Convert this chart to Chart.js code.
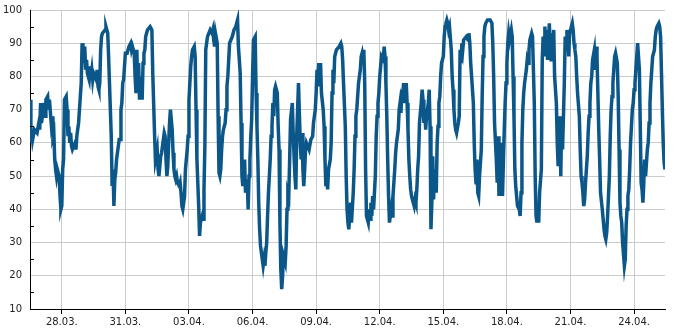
<!DOCTYPE html>
<html>
<head>
<meta charset="utf-8">
<script src="https://cdn.jsdelivr.net/npm/chart.js@4.4.1/dist/chart.umd.min.js"></script>
<style>
  html, body { margin: 0; padding: 0; background: #fff; }
  #wrap { width: 685px; height: 330px; position: relative; }
</style>
</head>
<body>
<div id="wrap"><canvas id="c"></canvas></div>
<script>
// Time in hours since 26.03. 00:00
const hours = [
12,13,14,15,17,20,22,23,24,25,28,29,30,32,33,34,36,37,38,39,40,41,42,43,45,46,47,48,49,50,51,
53,54,55,56,57,58,59,60,63,64,65,66,67,68,70,71,72,73,74,75,76,77,79,80,81,82,83,84,
87,88,89,90,91,92,93,94,97,98,99,100,101,102,104,105,106,107,108,109,110,111,
113,114,115,116,117,118,119,120,122,124,126,127,128,130,131,132,133,134,135,136,137,
139,140,141,142,143,144,145,148,149,150,151,152,153,154,156,157,158,159,160,161,162,
164,165,166,167,168,169,170,171,173,174,175,176,177,178,179,181,182,183,184,185,186,187,188,
190,191,192,193,194,195,196,198,199,200,201,202,203,204,205,207,208,209,210,211,212,213,
216,218,219,220,221,222,224,225,226,227,228,229,230,231,233,234,235,236,237,238,
241,243,245,246,247,248,250,251,252,253,254,255,256,258,259,260,261,262,263,264,265,
267,268,269,270,271,272,273,275,276,277,278,279,280,281,282,284,285,286,287,288,289,290,
292,293,294,295,296,297,298,299,301,302,303,304,305,306,307,309,310,311,312,313,314,315,316,
318,319,320,321,322,323,324,325,328,330,332,333,335,336,337,338,339,340,341,342,
344,345,346,347,348,349,350,352,353,354,355,356,357,358,359,362,364,365,366,367,
369,370,371,372,373,374,375,376,378,379,380,381,382,383,384,386,387,388,389,390,391,392,393,
395,396,397,398,399,400,401,403,404,405,406,407,408,409,410,412,413,414,415,416,417,418,419,
421,422,423,424,425,426,427,429,430,431,432,433,434,435,436,438,439,440,441,442,443,444,
446,447,448,449,450,451,452,453,455,456,457,458,459,460,461,463,464,465,466,467,468,469,470,
472,473,474,475,476,477,478,480,481,482,483,484,485,486,487,489,490,491,492,493,494,495,
497,498,499,500,501,502,503,506,508,509,510,511,512,514,515,516,517,518,519,520,521,
523,524,525,526,527,528,530,533,535,536,537,538,540,541,542,543,544,545,546,547,
549,550,551,552,553,554,555,557,558,559,560,561,562,563,564,566,567,568,569,570,571,572,
574,575,576,577,578,579,580,581,583,584,585,586,587,588,589,591,592,593,594,595,596,597,598,
600,601,602,603,604,605,606,608,609,610,611,612,613,614,615,617,618,619,620,621,622,623,
625,626,627,628,629,630,631,632,634,635,636,637,638,639,640,641,643,644,645,646,647,648,649,
651,652,653,654,655,656,657,658,660,661,662,663,664,665,666,668,669,670,671,672,673,674,675,
677,678,679,680,681,682,683,685,686,687,688,689,690,691,692,694,695,696,697,698,699,700,
702,703,704,705,706,707,708,709,711,712,713,714,715,716,717,719,720,721,722,724,725,726,
728,729,730,731
];
const values = [
73,60,64,61,64,63,66,64,72,66,72,68,73,74,70,73,66,68,62,63,55,52,50,52,50,44,40,41,52,55,73,
74,70,62,65,60,63,59,58,60,58,62,64,66,70,78,90,88,84,89,82,85,81,79,83,80,82,79,81,
79,82,77,76,78,88,92,93,94,95,94,93,86,78,62,47,52,41,49,51,55,57,
61,61,70,72,78,79,83,87,87,89,90,88,89,87,80,75,88,76,84,73,80,
73,84,87,88,92,93,94,95,95,94,81,72,63,55,58,52,50,53,56,57,59,
63,62,55,50,53,60,66,70,64,57,52,50,49,50,48,47,48,45,41,40,42,44,52,
58,62,73,78,83,86,88,89,86,70,55,48,41,32,36,38,37,46,59,88,90,92,
94,93,94,91,89,93,90,68,51,50,52,58,62,64,66,70,77,80,85,90,
92,94,95,96,97,89,81,66,50,47,52,55,45,49,40,50,55,62,67,80,91,
92,75,65,55,42,34,29,25,23,25,23,27,30,38,45,55,62,65,72,68,76,77,
75,65,58,36,22,16,20,26,24,29,40,45,44,55,67,72,63,56,50,46,62,70,78,
60,55,63,52,47,52,58,60,58,61,62,66,70,75,82,79,84,77,84,75,
70,65,55,47,50,46,52,55,60,75,82,78,86,87,88,89,90,89,85,78,
65,50,40,36,34,38,42,36,45,52,62,68,70,74,78,82,86,87,85,88,78,52,38,
36,40,37,42,38,44,40,50,62,68,72,75,80,83,86,85,89,86,78,68,55,44,36,
40,38,44,48,52,57,60,64,70,72,69,76,74,78,72,78,72,64,55,50,46,44,
42,41,43,42,46,52,56,66,72,76,73,66,70,64,68,72,76,65,34,42,56,43,52,
45,60,65,72,74,80,84,86,92,95,96,97,96,94,95,88,80,76,70,66,64,63,
66,68,88,84,90,88,91,92,91,93,90,84,80,72,60,52,48,55,45,44,50,
58,74,86,92,95,96,97,97,96,90,80,66,55,48,62,44,58,46,60,44,
64,72,78,84,90,93,91,94,92,80,68,52,47,44,41,40,38,45,60,70,75,78,
82,85,84,88,91,92,93,92,72,50,38,36,40,36,45,52,85,92,88,95,86,94,85,
96,90,85,93,88,94,80,72,60,53,58,68,50,68,58,78,92,90,94,92,86,93,
95,96,94,90,88,86,80,75,68,58,50,48,45,41,43,48,56,63,68,72,78,80,85,
88,82,89,86,75,64,55,45,40,37,34,32,31,33,38,50,62,70,74,78,82,86,87,
84,74,58,42,38,36,30,23,25,35,40,44,46,52,60,70,72,76,78,82,86,90,
82,65,48,46,42,48,55,50,58,60,66,72,78,82,86,88,92,94,95,96,95,92,
70,60,54,52
];
// x-axis ticks (hours since 26.03. 00:00) and their labels
const tickHours = [48,120,192,264,336,408,480,552,624,696];
const tickLabels = ['28.03.','31.03.','03.04.','06.04.','09.04.','12.04.','15.04.','18.04.','21.04.','24.04.'];
const minorTicksY = [15,25,35,45,55,65,75,85,95];

const points = hours.map((h, i) => ({ x: h, y: values[i] }));

const minorTickPlugin = {
  id: 'minorTicks',
  afterDatasetsDraw(chart) {
    const ys = chart.scales.y;
    const ctx = chart.ctx;
    const left = chart.chartArea.left;
    ctx.save();
    ctx.strokeStyle = '#000';
    ctx.lineWidth = 1;
    minorTicksY.forEach(v => {
      const py = Math.round(ys.getPixelForValue(v)) + 0.5;
      ctx.beginPath();
      ctx.moveTo(left, py);
      ctx.lineTo(left + 4, py);
      ctx.stroke();
    });
    ctx.restore();
  }
};

new Chart(document.getElementById('c'), {
  type: 'line',
  data: {
    datasets: [{
      data: points,
      borderColor: '#0b5789',
      borderWidth: 3.5,
      pointRadius: 0,
      tension: 0,
      fill: false
    }]
  },
  options: {
    responsive: true,
    maintainAspectRatio: false,
    animation: false,
    layout: { padding: { top: 10, right: 20, left: 0, bottom: 0 } },
    plugins: { legend: { display: false }, tooltip: { enabled: false } },
    scales: {
      x: {
        type: 'linear',
        min: 12,
        max: 731,
        afterBuildTicks: (scale) => { scale.ticks = tickHours.map(v => ({ value: v })); },
        ticks: {
          autoSkip: false,
          maxRotation: 0,
          padding: 2,
          color: '#222',
          font: { family: 'DejaVu Sans', size: 10 },
          callback: (v) => { const i = tickHours.indexOf(v); return i >= 0 ? tickLabels[i] : ''; }
        },
        grid: { color: '#cccccc', tickColor: '#000', tickLength: 5, drawTicks: true },
        border: { color: '#000', width: 1 }
      },
      y: {
        min: 10,
        max: 100,
        afterFit: (scale) => { scale.width = 30; },
        ticks: {
          stepSize: 10,
          padding: 2,
          color: '#222',
          font: { family: 'DejaVu Sans', size: 10 }
        },
        grid: { color: '#cccccc', drawTicks: true, tickLength: 6, tickColor: 'rgba(0,0,0,0)' },
        border: { color: '#000', width: 1 }
      }
    }
  },
  plugins: [minorTickPlugin]
});
</script>
</body>
</html>
